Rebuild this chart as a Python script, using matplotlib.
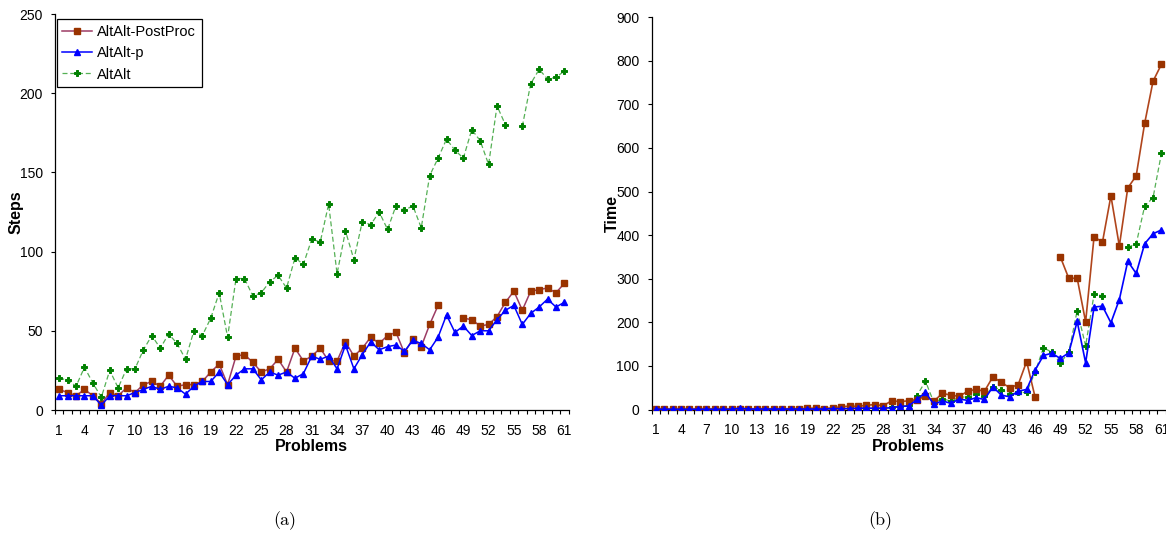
import numpy as np
import matplotlib
matplotlib.use("Agg")
import matplotlib.pyplot as plt
from matplotlib.ticker import FixedLocator, NullFormatter

plt.rcParams['font.family'] = ['Liberation Sans', 'DejaVu Sans']

nan = np.nan
problems = np.arange(1, 62)
tick_labels = [str(i) for i in range(1, 62, 3)]

# (a) plan length in steps
steps_postproc = [13, 11, 9, 13, 9, 4, 11, 9, 14, 11, 16, 18, 15, 22, 15, 16, 16, 18, 24, 29,
                  16, 34, 35, 30, 24, 26, 32, 24, 39, 31, 34, 39, 31, 31, 43, 34, 39, 46,
                  42, 47, 49, 36, 45, 40, 54, 66, nan, nan, 58, 57, 53, 54, 59, 68, 75, 63,
                  75, 76, 77, 74, 80]
steps_p = [9, 9, 9, 9, 9, 3, 9, 9, 9, 11, 13, 15, 13, 15, 14, 10, 15, 18, 18, 24,
           16, 22, 26, 26, 19, 24, 22, 24, 20, 23, 34, 32, 34, 26, 41, 26, 35, 43,
           38, 40, 41, 37, 44, 42, 38, 46, 60, 49, 53, 47, 50, 50, 57, 63, 66, 54,
           61, 65, 70, 65, 68]
steps_altalt = [20, 19, 15, 27, 17, 8, 25, 14, 26, 26, 38, 47, 39, 48, 42, 32, 50, 47, 58, 74,
                46, 83, 83, 72, 74, 81, 85, 77, 96, 92, 108, 106, 130, 86, 113, 95, 119, 117,
                125, 114, 129, 126, 129, 115, 148, 159, 171, 164, 159, 177, 170, 155, 192, 180,
                nan, 179, 206, 215, 209, 210, 214]

# (b) planning time
time_postproc = [1] * 18 + [3, 3, 2, 4, 6, 8, 7, 10, 11] + \
                [9, 20, 18, 20, 22, 31, 19, 37, 33, 30, 42, 46, 42, 75, 62, 50, 57, 110, 29] + \
                [nan, nan, 350, 301, 301, 201, 396, 384, 490, 375, 508, 536, 656, 753, 792]
time_p = [0.5] * 10 + [3] + [1] * 10 + [2, 2, 2, 3, 3, 3] + \
         [3, 4, 7, 8, 23, 39, 12, 20, 14, 24, 21, 27, 23, 52, 33, 29, 42, 46, 90] + \
         [124, 129, 117, 130, 202, 107, 235, 237, 199, 252, 340, 312, 380, 403, 412]
time_altalt = [1] * 21 + [2, 2, 2, 3, 3, 3] + [3, 5, 7, 10] + \
              [32, 65, 16, 25, 19, 28, 29, 35, 30, 52, 45, 36, 39, 39, 85] + \
              [142, 131, 107, 131, 227, 146, 264, 261, nan, nan, 372, 380, 466, 486, 588]

fig = plt.figure(figsize=(11.66, 5.4), dpi=100)
ax1 = fig.add_axes([55 / 1166, 130 / 540, 513.6 / 1166, 396 / 540])
ax2 = fig.add_axes([651.5 / 1166, 130.5 / 540, 514.2 / 1166, 392.4 / 540])


def style_axis(ax, ymax, ystep, ylabel):
    ax.set_xlim(0.5, 61.5)
    ax.set_ylim(0, ymax)
    ax.set_yticks(np.arange(0, ymax + 1, ystep))
    ax.xaxis.set_major_locator(FixedLocator(list(range(1, 62, 3))))
    ax.set_xticklabels(tick_labels)
    ax.xaxis.set_minor_locator(FixedLocator(np.arange(0.5, 62, 1.0)))
    ax.xaxis.set_minor_formatter(NullFormatter())
    ax.tick_params(axis='x', which='major', length=0, pad=10, labelsize=10)
    ax.tick_params(axis='x', which='minor', length=3.2, width=0.8, direction='out')
    ax.tick_params(axis='y', which='major', length=3.2, width=0.8, pad=5.5, labelsize=10)
    for s in ('top', 'right'):
        ax.spines[s].set_visible(False)
    for s in ('left', 'bottom'):
        ax.spines[s].set_linewidth(0.9)
    ax.set_xlabel('Problems', fontsize=11.5, fontweight='bold', labelpad=1)
    ax.set_ylabel(ylabel, fontsize=11.5, fontweight='bold')
    ax.yaxis.set_label_coords(-0.062, 0.5)


# left panel: steps
ax1.plot(problems, steps_postproc, color='#9c3c64', lw=1.1, marker='s', ms=4.3,
         mfc='#993300', mec='#993300', label='AltAlt-PostProc', zorder=3)
ax1.plot(problems, steps_p, color='#0000ff', lw=1.1, marker='^', ms=4.5,
         mfc='#0000ff', mec='#0000ff', label='AltAlt-p', zorder=4)
ax1.plot(problems, steps_altalt, color='#55b055', lw=0.9, ls=(0, (4, 2.2)), marker='P', ms=5,
         mfc='#008000', mec='#008000', mew=0.7, label='AltAlt', zorder=2)
style_axis(ax1, 250, 50, 'Steps')
leg = ax1.legend(loc='upper left', bbox_to_anchor=(0.003, 0.987), fontsize=10.5, frameon=True,
                 fancybox=False, edgecolor='black', framealpha=1, borderpad=0.4,
                 labelspacing=0.5, handlelength=2.0, handletextpad=0.4, borderaxespad=0)
leg.get_frame().set_linewidth(0.9)

# right panel: time
ax2.plot(problems, time_postproc, color='#b0451c', lw=1.2, marker='s', ms=4.3,
         mfc='#993300', mec='#993300', zorder=3)
ax2.plot(problems, time_p, color='#0000ff', lw=1.2, marker='^', ms=4.5,
         mfc='#0000ff', mec='#0000ff', zorder=4)
ax2.plot(problems, time_altalt, color='#55b055', lw=0.9, ls=(0, (4, 2.2)), marker='P', ms=5,
         mfc='#008000', mec='#008000', mew=0.7, zorder=2)
style_axis(ax2, 900, 100, 'Time')

fig.text(285 / 1166, 1 - 521 / 540, '(a)', family='cmr10', fontsize=13, ha='center', va='center')
fig.text(880 / 1166, 1 - 521 / 540, '(b)', family='cmr10', fontsize=13, ha='center', va='center')

fig.savefig('out.png', dpi=100)
